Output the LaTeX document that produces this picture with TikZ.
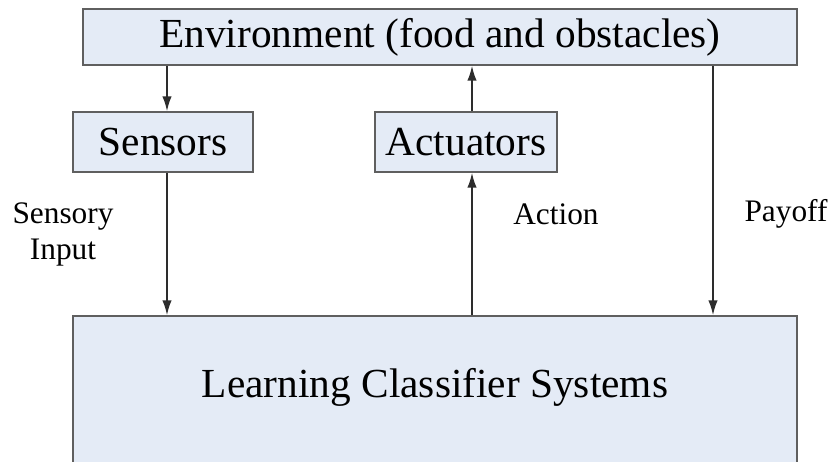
\documentclass[tikz,border=0pt]{standalone}
\usepackage{fontspec}
\setmainfont{Liberation Serif}
\usetikzlibrary{arrows.meta}
\definecolor{boxfill}{RGB}{228,235,246}
\definecolor{boxline}{RGB}{95,95,95}
\definecolor{wire}{RGB}{45,45,45}
\begin{document}
\begin{tikzpicture}[x=0.75pt,y=-0.75pt,
  box/.style={draw=boxline,fill=boxfill,line width=1.4pt,inner sep=0pt,
              font=\fontsize{31}{37}\selectfont},
  bigtext/.style={inner sep=0pt,font=\fontsize{31}{37}\selectfont},
  lbl/.style={inner sep=0pt,align=center,font=\fontsize{23.5}{27}\selectfont},
  arr/.style={draw=wire,line width=1.1pt,-{Latex[length=11pt,width=7pt]}}]
  \useasboundingbox (0,0) rectangle (832,461);
  \clip (0,0) rectangle (832,461);

  % boxes
  \node[box,minimum width=714*0.75pt,minimum height=56*0.75pt] (env) at (440,37)
    {Environment (food and obstacles)};
  \node[box,minimum width=180*0.75pt,minimum height=60*0.75pt] (sens) at (163,142)
    {Sensors};
  \node[box,minimum width=182*0.75pt,minimum height=60*0.75pt] (act) at (466,142)
    {Actuators};
  \node[box,minimum width=724*0.75pt,minimum height=170*0.75pt] (lcs) at (435,401) {};
  \node[bigtext] (lcstext) at (435,387) {Learning Classifier Systems};

  % x positions of the vertical connectors
  \coordinate (xs) at (167,0);
  \coordinate (xa) at (472,0);
  \coordinate (xp) at (713,0);

  % connectors
  \draw[arr] (env.south -| xs) -- (sens.north -| xs);
  \draw[arr] (sens.south -| xs) -- (lcs.north -| xs);
  \draw[arr] (lcs.north -| xa) -- (act.south -| xa);
  \draw[arr] (act.north -| xa) -- (env.south -| xa);
  \draw[arr] (env.south -| xp) -- (lcs.north -| xp);

  % connector labels
  \node[lbl] (sensin) at (63,234) {Sensory\\Input};
  \node[lbl] (action) at (556,214) {Action};
  \node[lbl] (payoff) at (786,214) {Payoff};
\end{tikzpicture}
\end{document}
